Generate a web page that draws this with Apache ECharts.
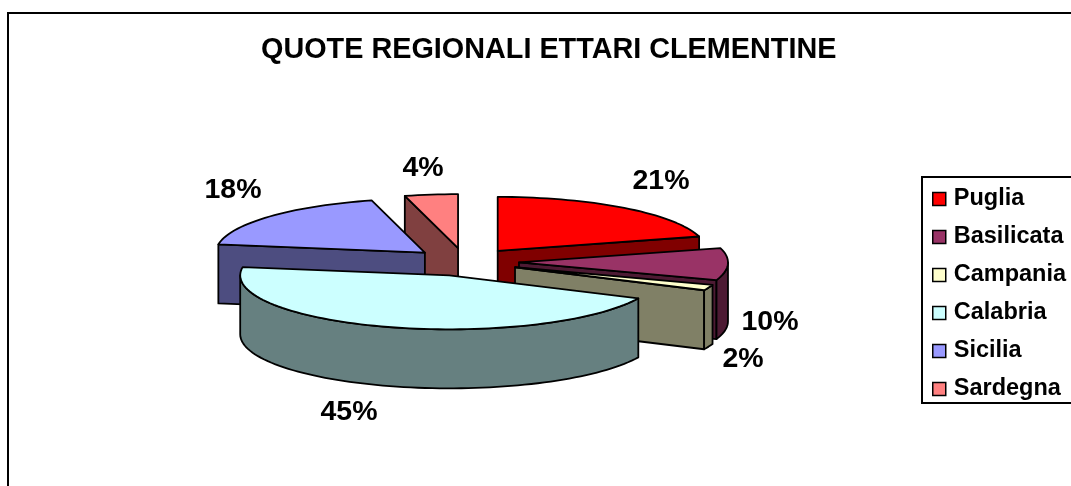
<!DOCTYPE html>
<html><head><meta charset="utf-8">
<style>html,body{margin:0;padding:0;background:#fff}#c{width:1071px;height:486px}</style>
<script src="https://cdn.jsdelivr.net/npm/echarts@6/dist/echarts.min.js"></script>
</head><body><div id="c"></div>
<script>
const chartTitle = 'QUOTE REGIONALI ETTARI CLEMENTINE';
const regions = ['Puglia','Basilicata','Campania','Calabria','Sicilia','Sardegna'];
const shares = [20.7, 9.6, 1.7, 45.45, 18.45, 4.1];
const topColors = ['#FF0000','#993366','#FFFFCC','#CCFFFF','#9999FF','#FF8080'];
const sideColors = ['#800000','#4D1A33','#808066','#668080','#4D4D80','#804040'];
const labelCenters = [[661,181],[770,322],[743,359],[349,412],[233,190],[423,168]];

const PIE = {cx:465, cy:262, rx:209, ry:54, explode:54, depth:59};
const FONT = '"Liberation Sans", Arial, sans-serif';
const total = shares.reduce((a,b)=>a+b,0);
const rad = d => d*Math.PI/180;

const slices = []; let acc = 0;
shares.forEach((v,i)=>{
  const a0 = acc/total*360, a1 = (acc+v)/total*360; acc += v;
  const mid = (a0+a1)/2;
  slices.push({i,a0,a1,
    x: PIE.cx + PIE.explode*Math.sin(rad(mid)),
    y: PIE.cy - PIE.explode*Math.cos(rad(mid))*PIE.ry/PIE.rx});
});
const order = slices.slice().sort((p,q)=>p.y-q.y).map(s=>s.i);

function rim(s,a,dy){ return [s.x+PIE.rx*Math.sin(rad(a)), s.y-PIE.ry*Math.cos(rad(a))+(dy||0)]; }
function arc(s,a0,a1,dy){ const pts=[], n=Math.max(2,Math.ceil((a1-a0)/2));
  for(let k=0;k<=n;k++) pts.push(rim(s,a0+(a1-a0)*k/n,dy)); return pts; }
const stroke = {stroke:'#000', lineWidth:1.8, lineJoin:'round'};
function poly(points,fill){ return {type:'polygon',shape:{points},style:Object.assign({fill},stroke)}; }

function renderSlice(i){
  const s = slices[i], d = PIE.depth, kids = [];
  const apex=[s.x,s.y], apexB=[s.x,s.y+d];
  const side = sideColors[i];
  if(Math.sin(rad(s.a0))<-1e-6) kids.push(poly([apex,rim(s,s.a0),rim(s,s.a0,d),apexB],side));
  if(Math.sin(rad(s.a1))>1e-6) kids.push(poly([apex,rim(s,s.a1),rim(s,s.a1,d),apexB],side));
  const w0=Math.max(s.a0,90), w1=Math.min(s.a1,270);
  if(w1>w0) kids.push(poly(arc(s,w0,w1).concat(arc(s,w0,w1,d).reverse()),side));
  kids.push(poly([apex].concat(arc(s,s.a0,s.a1)),topColors[i]));
  kids.push({type:'text',z2:100,style:{text:Math.round(shares[i]/total*100)+'%',
    x:labelCenters[i][0],y:labelCenters[i][1],align:'center',verticalAlign:'middle',
    fill:'#000',font:'bold 28.5px '+FONT}});
  return {type:'group',children:kids};
}

const series = regions.map((name,i)=>({
  type:'custom', name, coordinateSystem:'none', silent:true,
  z: 2+order.indexOf(i),
  data:[[shares[i]]],
  itemStyle:{color:topColors[i]},
  renderItem:()=>renderSlice(i)
}));

const chart = echarts.init(document.getElementById('c'),null,{renderer:'canvas'});
chart.setOption({
  animation:false, backgroundColor:'#fff',
  title:{text:chartTitle,left:261,top:36,padding:0,
    textStyle:{fontFamily:FONT,fontWeight:'bold',fontSize:28.8,color:'#000'}},
  legend:{data:regions,orient:'vertical',left:922,top:177,
    padding:[10,10,2,10],itemGap:14,itemWidth:13,itemHeight:13,icon:'rect',
    borderColor:'#000',borderWidth:2,backgroundColor:'#fff',
    itemStyle:{borderColor:'#000',borderWidth:1.5},
    textStyle:{fontFamily:FONT,fontWeight:'bold',fontSize:23.5,color:'#000',padding:[0,0,0,3]},
    selectedMode:false},
  graphic:[{type:'rect',z:-1,silent:true,shape:{x:8,y:13,width:1200,height:600},
    style:{fill:'#fff',stroke:'#000',lineWidth:2}}],
  series
});
</script></body></html>
